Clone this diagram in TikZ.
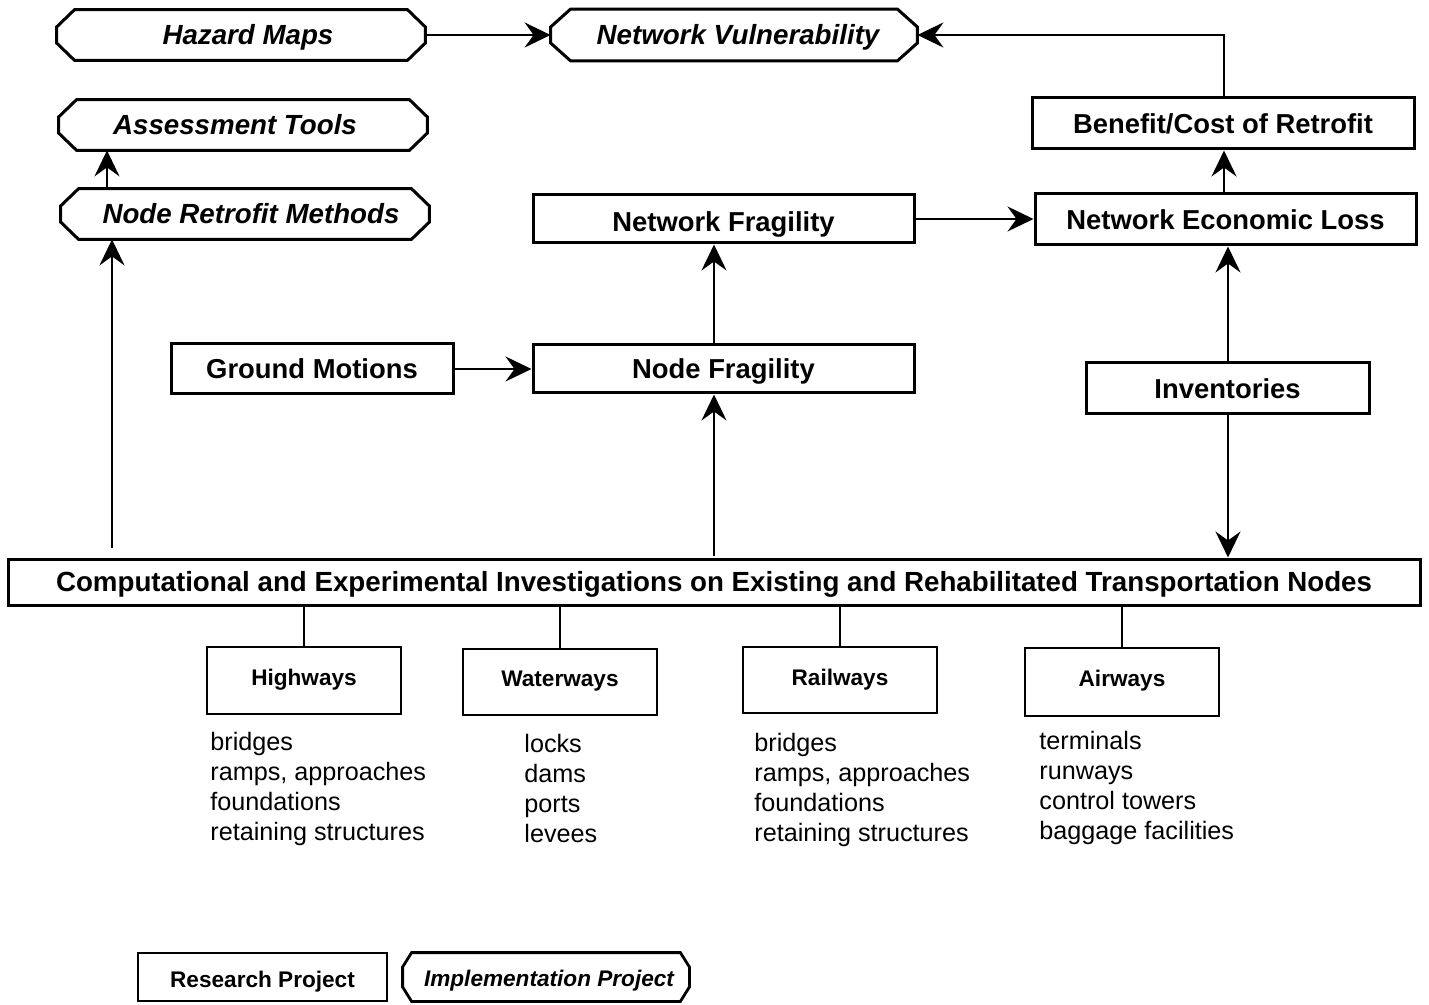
\documentclass[tikz,border=0pt]{standalone}
\usepackage{fontspec}
\setmainfont{Liberation Sans}
\usetikzlibrary{calc,arrows.meta}
\newcommand{\octo}[4][1.5pt]{%
  \draw[line width=#1,line join=miter]
    ($(#2.north west)+(#3,0)$) -- ($(#2.north east)+(-#3,0)$) --
    ($(#2.east)+(0,-#4)$) -- ($(#2.east)+(0,#4)$) --
    ($(#2.south east)+(-#3,0)$) -- ($(#2.south west)+(#3,0)$) --
    ($(#2.west)+(0,#4)$) -- ($(#2.west)+(0,-#4)$) -- cycle;}
\begin{document}
\begin{tikzpicture}[x=0.5pt,y=-0.5pt,
  rbox/.style={draw,line width=1.5pt,rectangle,inner sep=0pt,text height=9.8pt,text depth=0pt,font=\fontsize{13.7}{16}\selectfont\bfseries},
  hbox/.style={rectangle,inner sep=0pt,text height=9.9pt,text depth=0pt,font=\fontsize{13.85}{16}\selectfont\bfseries\itshape},
  sbox/.style={draw,line width=1.1pt,rectangle,inner sep=0pt,text height=8.1pt,text depth=0pt,font=\fontsize{11.3}{14}\selectfont\bfseries},
  lst/.style={anchor=north west,align=left,inner sep=0pt,font=\fontsize{12.6}{15}\selectfont},
  arr/.style={line width=1pt,-{Stealth[length=13pt,width=12.5pt,inset=4.5pt]}},
  ln/.style={line width=1pt}]
\useasboundingbox (0,0) rectangle (1429,1005);
% hexagon nodes
\node[hbox,minimum width=184pt,minimum height=25pt] (hazard) at (241,35) {\hspace*{7pt}Hazard Maps};
\node[hbox,minimum width=183pt,minimum height=25.5pt] (netvul) at (734,35) {\hspace*{4pt}Network Vulnerability};
\node[hbox,minimum width=184pt,minimum height=25pt] (assess) at (243,125) {\hspace*{-8pt}Assessment Tools};
\node[hbox,minimum width=184pt,minimum height=25pt] (retro) at (245,214) {\hspace*{6pt}Node Retrofit Methods};
\octo{hazard}{18}{8}
\octo{netvul}{20}{8}
\octo{assess}{18}{8}
\octo{retro}{18}{8}
% rectangle nodes
\node[rbox,minimum width=191pt,minimum height=25.5pt] (benefit) at (1223,123.5) {Benefit/Cost of Retrofit};
\node[rbox,minimum width=190.5pt,minimum height=25.5pt] (econ) at (1225.5,219.5) {Network Economic Loss};
\node[rbox,minimum width=190.5pt,minimum height=24pt] (netfrag) at (723.5,219) {\raisebox{-1.5pt}{Network Fragility}};
\node[rbox,minimum width=141pt,minimum height=25pt] (ground) at (312,369) {Ground Motions};
\node[rbox,minimum width=190.5pt,minimum height=24pt] (nodefrag) at (723.5,369) {Node Fragility};
\node[rbox,minimum width=141.5pt,minimum height=25.5pt] (invent) at (1227.5,388.5) {Inventories};
\node[rbox,minimum width=706pt,minimum height=23pt,font=\fontsize{13.85}{16}\selectfont\bfseries] (comp) at (714,582) {Computational and Experimental Investigations on Existing and Rehabilitated Transportation Nodes};
% mode boxes
\node[sbox,minimum width=97pt,minimum height=33.5pt] (high) at (304,680.5) {\raisebox{1.5pt}{Highways}};
\node[sbox,minimum width=97pt,minimum height=33pt] (water) at (560,682) {\raisebox{2pt}{Waterways}};
\node[sbox,minimum width=97pt,minimum height=33pt] (rail) at (840,680) {\raisebox{1.5pt}{Railways}};
\node[sbox,minimum width=97pt,minimum height=34pt] (air) at (1122,682) {\raisebox{2pt}{Airways}};
% lists
\node[lst] (lhigh) at (210,732) {bridges\\ramps, approaches\\foundations\\retaining structures};
\node[lst] (lwater) at (524,734) {locks\\dams\\ports\\levees};
\node[lst] (lrail) at (754,733) {bridges\\ramps, approaches\\foundations\\retaining structures};
\node[lst] (lair) at (1039,731) {terminals\\runways\\control towers\\baggage facilities};
% legend
\node[sbox,line width=1.4pt,minimum width=124.5pt,minimum height=24pt] (research) at (262.5,977) {\raisebox{-1pt}{Research Project}};
\node[hbox,minimum width=143pt,minimum height=24pt,font=\fontsize{11.3}{14}\selectfont\bfseries\itshape] (impl) at (546,977) {\hspace*{3pt}Implementation Project};
\octo[1.4pt]{impl}{9}{10}
% helper coordinates
\coordinate (x107) at (107,0);
\coordinate (x714) at (714,0);
\coordinate (x1224) at (1224,0);
\coordinate (x1228) at (1228,0);
\coordinate (c1) at (112,548);
\coordinate (c2) at (714,556);
% connectors
\draw[arr] (hazard.east) -- (hazard.east -| netvul.west);
\draw[arr] (benefit.north -| x1224) |- (netvul.east);
\draw[arr] (retro.north -| x107) -- (assess.south -| x107);
\draw[arr] (c1) -- (c1 |- retro.south);
\draw[arr] (ground.east) -- (ground.east -| nodefrag.west);
\draw[arr] (nodefrag.north -| x714) -- (netfrag.south -| x714);
\draw[arr] (c2) -- (c2 |- nodefrag.south);
\draw[arr] (netfrag.east) -- (netfrag.east -| econ.west);
\draw[arr] (econ.north -| x1224) -- (benefit.south -| x1224);
\draw[arr] (invent.north -| x1228) -- (econ.south -| x1228);
\draw[arr] (invent.south -| x1228) -- (comp.north -| x1228);
\draw[ln] (comp.south -| high.north) -- (high.north);
\draw[ln] (comp.south -| water.north) -- (water.north);
\draw[ln] (comp.south -| rail.north) -- (rail.north);
\draw[ln] (comp.south -| air.north) -- (air.north);
\end{tikzpicture}
\end{document}
